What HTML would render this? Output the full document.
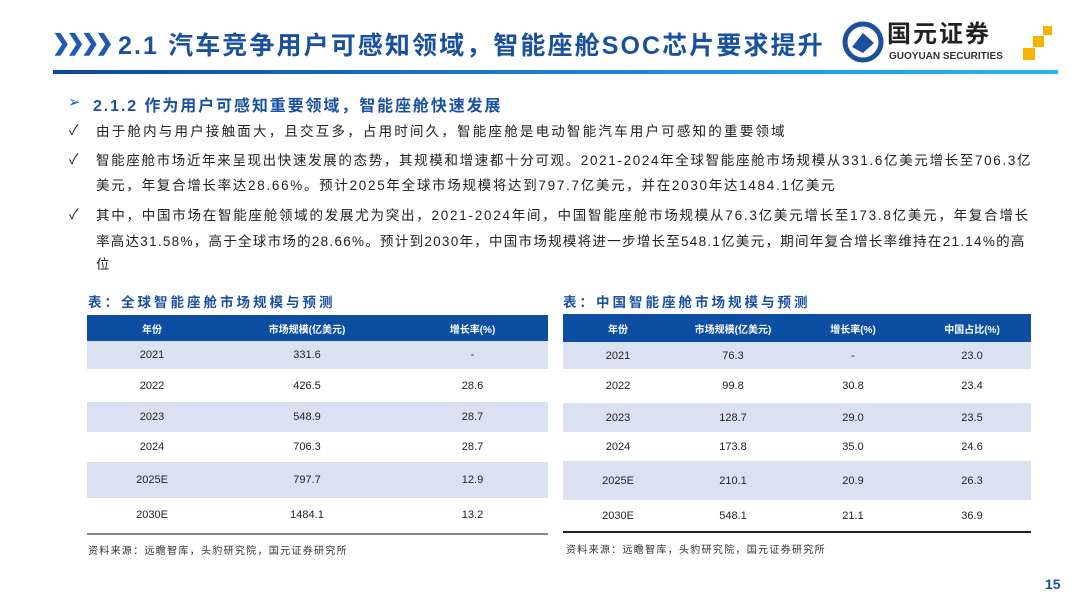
<!DOCTYPE html><html><head><meta charset="utf-8"><style>
body{margin:0;width:1080px;height:607px;background:#fff;position:relative;overflow:hidden;font-family:"Liberation Sans","Noto Sans CJK SC",sans-serif;}
.a{position:absolute;white-space:nowrap;}
.t{font-size:13.5px;color:#222;}
.ck{position:absolute;left:69px;font-size:14px;color:#222;}
table{position:absolute;border-collapse:collapse;font-size:11px;color:#222;}
td{text-align:center;padding:0;}
tr.h td{background:#0b4ea2;color:#fff;font-weight:bold;font-size:10px;}
tr.s td{background:#dae2f2;}
.src{font-size:10px;color:#333;letter-spacing:1.3px;}
</style></head><body>
<div class="a" style="left:52px;top:30px;color:#1f5bb4;font-size:22px;font-weight:bold;letter-spacing:-4px;">❯❯❯❯</div>
<div class="a" style="left:118px;top:26px;color:#1a50a0;font-size:25px;font-weight:bold;letter-spacing:2.1px;">2.1 汽车竞争用户可感知领域，智能座舱SOC芯片要求提升</div>
<div class="a" style="left:53px;top:70px;width:1005px;height:4px;background:linear-gradient(90deg,#0d47a1,#1e88e5 60%,#29b6f6);"></div>
<svg class="a" style="left:842px;top:21px" width="42" height="42" viewBox="0 0 42 42"><circle cx="21" cy="21" r="18" fill="none" stroke="#1d4f9c" stroke-width="5"/><path d="M10 26 L21 12 L32 22 L21 32 Z" fill="#1d4f9c"/></svg>
<div class="a" style="left:887px;top:21px;font-size:24px;font-weight:bold;color:#222;letter-spacing:2px;line-height:28px;">国元证券</div>
<div class="a" style="left:889px;top:51px;font-size:10px;font-weight:bold;color:#333;">GUOYUAN SECURITIES</div>
<div class="a" style="left:1043px;top:26px;width:9px;height:9px;background:#f4b400;"></div>
<div class="a" style="left:1033px;top:36px;width:11px;height:11px;background:#f4b400;"></div>
<div class="a" style="left:1023px;top:48px;width:12px;height:12px;background:#f4b400;"></div>

<div class="a" style="left:68px;top:93px;color:#1f5bb4;font-size:15px;">➢</div>
<div class="a" style="left:93px;top:92px;color:#1a50a0;font-size:16px;font-weight:bold;letter-spacing:1.9px;">2.1.2 作为用户可感知重要领域，智能座舱快速发展</div>
<div class="ck" style="top:120px">✓</div><div class="a t" style="left:96px;top:120px;letter-spacing:2.2px;">由于舱内与用户接触面大，且交互多，占用时间久，智能座舱是电动智能汽车用户可感知的重要领域</div>
<div class="ck" style="top:149px">✓</div><div class="a t" style="left:96px;top:149px;letter-spacing:1.65px;">智能座舱市场近年来呈现出快速发展的态势，其规模和增速都十分可观。2021-2024年全球智能座舱市场规模从331.6亿美元增长至706.3亿</div>
<div class="a t" style="left:96px;top:174px;letter-spacing:1.7px;">美元，年复合增长率达28.66%。预计2025年全球市场规模将达到797.7亿美元，并在2030年达1484.1亿美元</div>
<div class="ck" style="top:204px">✓</div><div class="a t" style="left:96px;top:204px;letter-spacing:1.75px;">其中，中国市场在智能座舱领域的发展尤为突出，2021-2024年间，中国智能座舱市场规模从76.3亿美元增长至173.8亿美元，年复合增长</div>
<div class="a t" style="left:96px;top:230px;letter-spacing:1.27px;">率高达31.58%，高于全球市场的28.66%。预计到2030年，中国市场规模将进一步增长至548.1亿美元，期间年复合增长率维持在21.14%的高</div>
<div class="a t" style="left:96px;top:253px;">位</div>

<div class="a" style="left:88px;top:291px;color:#1a50a0;font-size:13.5px;font-weight:bold;letter-spacing:3px;">表：全球智能座舱市场规模与预测</div>
<table style="left:87px;top:315px;width:461px;">
<colgroup><col style="width:130px"><col style="width:180px"><col style="width:151px"></colgroup>
<tr class="h" style="height:26px"><td>年份</td><td>市场规模(亿美元)</td><td>增长率(%)</td></tr>
<tr class="s" style="height:28px"><td>2021</td><td>331.6</td><td>-</td></tr>
<tr style="height:33px"><td>2022</td><td>426.5</td><td>28.6</td></tr>
<tr class="s" style="height:30px"><td>2023</td><td>548.9</td><td>28.7</td></tr>
<tr style="height:30px"><td>2024</td><td>706.3</td><td>28.7</td></tr>
<tr class="s" style="height:36px"><td>2025E</td><td>797.7</td><td>12.9</td></tr>
<tr style="height:33px"><td>2030E</td><td>1484.1</td><td>13.2</td></tr>
</table>
<div class="a" style="left:87px;top:533px;width:461px;height:2px;background:#888;"></div>
<div class="a src" style="left:88px;top:542px;">资料来源：远瞻智库，头豹研究院，国元证券研究所</div>

<div class="a" style="left:563px;top:291px;color:#1a50a0;font-size:13.5px;font-weight:bold;letter-spacing:3px;">表：中国智能座舱市场规模与预测</div>
<table style="left:563px;top:314px;width:468px;">
<colgroup><col style="width:110px"><col style="width:120px"><col style="width:120px"><col style="width:118px"></colgroup>
<tr class="h" style="height:28px"><td>年份</td><td>市场规模(亿美元)</td><td>增长率(%)</td><td>中国占比(%)</td></tr>
<tr class="s" style="height:27px"><td>2021</td><td>76.3</td><td>-</td><td>23.0</td></tr>
<tr style="height:34px"><td>2022</td><td>99.8</td><td>30.8</td><td>23.4</td></tr>
<tr class="s" style="height:29px"><td>2023</td><td>128.7</td><td>29.0</td><td>23.5</td></tr>
<tr style="height:29px"><td>2024</td><td>173.8</td><td>35.0</td><td>24.6</td></tr>
<tr class="s" style="height:39px"><td>2025E</td><td>210.1</td><td>20.9</td><td>26.3</td></tr>
<tr style="height:32px"><td>2030E</td><td>548.1</td><td>21.1</td><td>36.9</td></tr>
</table>
<div class="a" style="left:563px;top:531px;width:468px;height:2px;background:#222;"></div>
<div class="a src" style="left:566px;top:541px;">资料来源：远瞻智库，头豹研究院，国元证券研究所</div>

<div class="a" style="left:1045px;top:576px;color:#1a50a0;font-size:14px;font-weight:bold;">15</div>
</body></html>
